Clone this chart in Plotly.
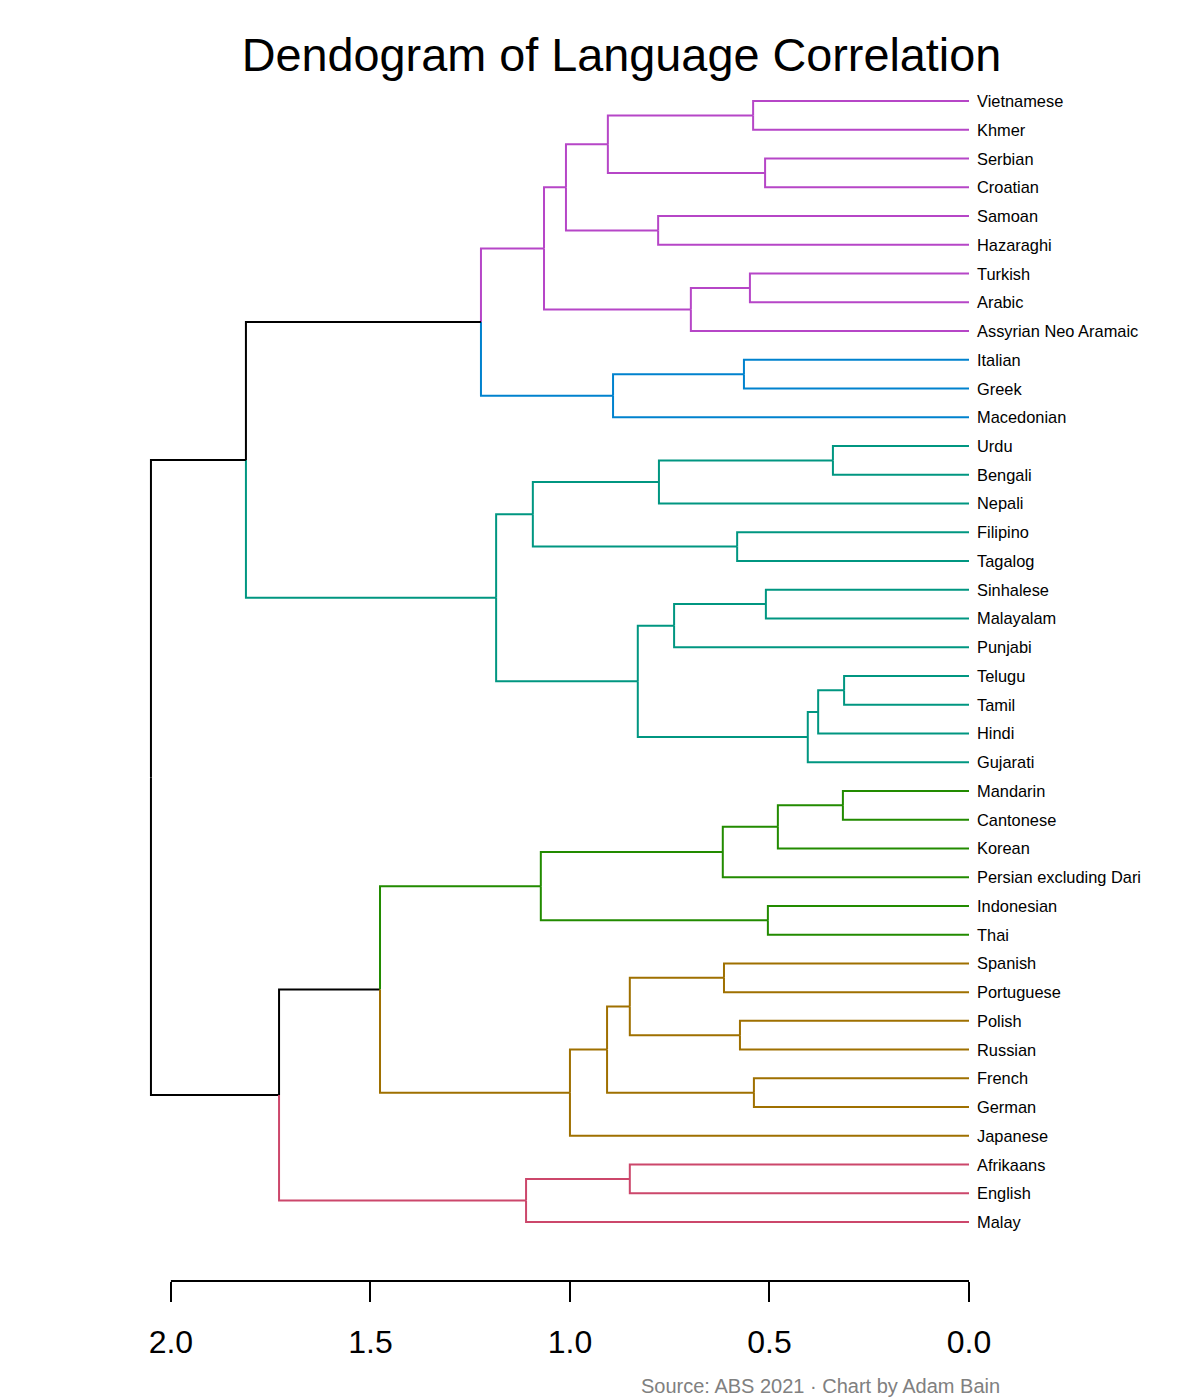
import plotly.graph_objects as go

# leaves, top to bottom
leaves = [
    "Vietnamese", "Khmer", "Serbian", "Croatian", "Samoan", "Hazaraghi",
    "Turkish", "Arabic", "Assyrian Neo Aramaic", "Italian", "Greek", "Macedonian",
    "Urdu", "Bengali", "Nepali", "Filipino", "Tagalog", "Sinhalese", "Malayalam",
    "Punjabi", "Telugu", "Tamil", "Hindi", "Gujarati", "Mandarin", "Cantonese",
    "Korean", "Persian excluding Dari", "Indonesian", "Thai", "Spanish",
    "Portuguese", "Polish", "Russian", "French", "German", "Japanese",
    "Afrikaans", "English", "Malay",
]
leaf_group = [
    5, 5, 5, 5, 5, 5, 5, 5, 5,
    4, 4, 4,
    3, 3, 3, 3, 3, 3, 3, 3, 3, 3, 3, 3,
    2, 2, 2, 2, 2, 2,
    1, 1, 1, 1, 1, 1, 1,
    0, 0, 0,
]
group_colors = ["#CC476B", "#9F7000", "#228B00", "#009681", "#0082CE", "#B646C7"]

# merges: strings are leaves, ints point at earlier merges
merge_left = [
    "Vietnamese", "Serbian", 0, "Samoan", 2, "Turkish", 5, 4, "Italian", 8, 7,
    "Urdu", 11, "Filipino", 12, "Sinhalese", 15, "Telugu", 17, 18, 16, 14, 10,
    "Mandarin", 23, 24, "Indonesian", 25, "Spanish", "Polish", 28, "French", 30,
    32, 27, "Afrikaans", 35, 34, 22,
]
merge_right = [
    "Khmer", "Croatian", 1, "Hazaraghi", 3, "Arabic", "Assyrian Neo Aramaic", 6,
    "Greek", "Macedonian", 9, "Bengali", "Nepali", "Tagalog", 13, "Malayalam",
    "Punjabi", "Tamil", "Hindi", "Gujarati", 19, 20, 21, "Cantonese", "Korean",
    "Persian excluding Dari", "Thai", 26, "Portuguese", "Russian", 29, "German",
    31, "Japanese", 33, "English", "Malay", 36, 37,
]
merge_height = [
    0.541, 0.511, 0.905, 0.779, 1.010, 0.549, 0.697, 1.065, 0.564, 0.892, 1.223,
    0.341, 0.777, 0.581, 1.093, 0.509, 0.739, 0.313, 0.378, 0.404, 0.830, 1.185,
    1.812, 0.316, 0.479, 0.617, 0.504, 1.073, 0.614, 0.574, 0.850, 0.539, 0.907,
    1.000, 1.476, 0.850, 1.110, 1.729, 2.050,
]

ticks = [2.0, 1.5, 1.0, 0.5, 0.0]

FONT = "Liberation Sans, Arial, sans-serif"
W, H = 1192, 1392  # page adds an 8px body margin

# node positions
node_x, node_y, node_col = {}, {}, {}
for i, name in enumerate(leaves):
    node_x[name] = 0.0
    node_y[name] = i
    node_col[name] = group_colors[leaf_group[i]]
for k, h in enumerate(merge_height):
    a, b = merge_left[k], merge_right[k]
    node_x[k] = h
    node_y[k] = (node_y[a] + node_y[b]) / 2
    node_col[k] = node_col[a] if node_col[a] == node_col[b] else "black"

# each edge coloured by the child it leads to
segs = {}
for k, h in enumerate(merge_height):
    for child in (merge_left[k], merge_right[k]):
        xs, ys = segs.setdefault(node_col[child], ([], []))
        xs += [h, h, node_x[child], None]
        ys += [node_y[k], node_y[child], node_y[child], None]

fig = go.Figure()
for col, (xs, ys) in segs.items():
    fig.add_trace(go.Scatter(x=xs, y=ys, mode="lines",
                             line=dict(color=col, width=2),
                             hoverinfo="skip", showlegend=False))

for i, name in enumerate(leaves):
    fig.add_annotation(x=0, y=i, text=name, showarrow=False,
                       xanchor="left", yanchor="middle", xshift=6,
                       font=dict(family=FONT, size=16.4, color="black"))

# axis line only between first and last tick
fig.add_shape(type="line", xref="x", yref="paper",
              x0=min(ticks), x1=max(ticks), y0=0, y1=0,
              line=dict(color="black", width=2))

fig.add_annotation(xref="paper", yref="paper", x=1.0395, y=-0.088,
                   text="Source: ABS 2021 · Chart by Adam Bain", showarrow=False,
                   xanchor="right", yanchor="middle",
                   font=dict(family=FONT, size=20, color="#808080"))

fig.update_layout(
    width=W, height=H,
    margin=dict(l=123, r=231, t=79, b=119),
    plot_bgcolor="white", paper_bgcolor="white",
    title=dict(text="Dendogram of Language Correlation",
               x=613.5 / W, xanchor="center", y=1 - 47 / H, yanchor="middle",
               font=dict(family=FONT, size=46.8, color="black")),
    font=dict(family=FONT),
)
fig.update_xaxes(range=[2.1, 0], tickvals=ticks,
                 ticktext=[f"{t:.1f}" for t in ticks],
                 ticks="outside", ticklen=20, tickwidth=2, tickcolor="black",
                 ticklabelstandoff=13,
                 tickfont=dict(family=FONT, size=32, color="black"),
                 showline=False, showgrid=False, zeroline=False)
fig.update_yaxes(range=[41.05, -0.49], visible=False,
                 showgrid=False, zeroline=False)

fig.write_html("out.html")
